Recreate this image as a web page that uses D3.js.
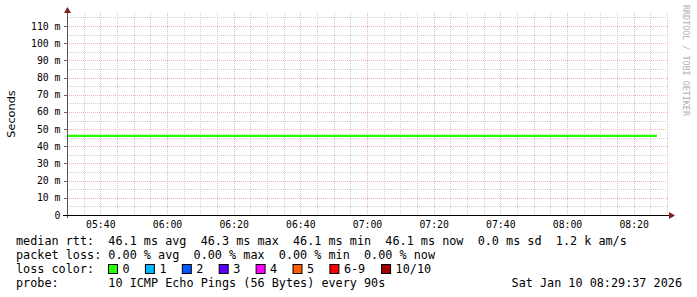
<!DOCTYPE html>
<html>
<head>
<meta charset="utf-8">
<script src="https://cdn.jsdelivr.net/npm/d3@7/dist/d3.min.js"></script>
<style>
  html, body { margin: 0; padding: 0; background: #fff; }
  svg { display: block; }
  text { white-space: pre; }
</style>
</head>
<body>
<div id="chart"></div>
<script>
// time window of the graph and the median rtt samples (seconds)
const timeStart = "05:30";
const timeEnd = "08:30";
const sampleTimes = ["05:30", "08:27"];
const medianRtt = [0.0461, 0.0461];
const lossOfSamples = [0, 0];

const yMajorTicks = [0, 0.01, 0.02, 0.03, 0.04, 0.05, 0.06, 0.07, 0.08, 0.09, 0.10, 0.11];
const yTickLabels = ["0", "10 m", "20 m", "30 m", "40 m", "50 m", "60 m", "70 m", "80 m", "90 m", "100 m", "110 m"];

const rttStats = ["46.1 ms avg", "46.3 ms max", "46.1 ms min", "46.1 ms now", "0.0 ms sd", "1.2 k am/s"];
const lossStats = ["0.00 % avg", "0.00 % max", "0.00 % min", "0.00 % now"];
const lossLabels = ["0", "1", "2", "3", "4", "5", "6-9", "10/10"];
const lossColors = ["#26ff00", "#00b8ff", "#0059ff", "#5e00ff", "#ff00ff", "#ff5e00", "#ff0000", "#a00000"];
const probeText = "10 ICMP Echo Pings (56 Bytes) every 90s";
const stamp = "Sat Jan 10 08:29:37 2026";

const W = 697, H = 297;
const plot = { left: 67, right: 667, top: 13, bottom: 215 };
const mono = "'DejaVu Sans Mono', monospace";
const legendFont = 11.8;

const day = t => new Date(`2026-01-10T${t}:00`);

const svg = d3.select("#chart").append("svg")
  .attr("width", W).attr("height", H);

svg.append("rect").attr("width", W).attr("height", H).attr("fill", "#fff");

const x = d3.scaleTime()
  .domain([day(timeStart), day(timeEnd)])
  .range([plot.left, plot.right]);

const y = d3.scaleLinear()
  .domain([0, 0.1176])
  .range([plot.bottom, plot.top]);

// minor grid
svg.append("g").selectAll("line")
  .data(x.ticks(d3.timeMinute.every(5)).filter(d => d.getMinutes() % 20 !== 0 && +d > +day(timeStart)))
  .join("line")
  .attr("x1", d => Math.round(x(d)) + 0.5).attr("x2", d => Math.round(x(d)) + 0.5)
  .attr("y1", plot.top).attr("y2", plot.bottom)
  .attr("stroke", "#cfcfcf").attr("stroke-dasharray", "1,1");

svg.append("g").selectAll("line")
  .data(d3.range(0.005, 0.12, 0.01))
  .join("line")
  .attr("x1", plot.left).attr("x2", plot.right + 2)
  .attr("y1", d => Math.round(y(d)) + 0.5).attr("y2", d => Math.round(y(d)) + 0.5)
  .attr("stroke", "#cfcfcf").attr("stroke-dasharray", "1,1");

// major grid
const majorX = x.ticks(d3.timeMinute.every(20));
svg.append("g").selectAll("line")
  .data(majorX)
  .join("line")
  .attr("x1", d => Math.round(x(d)) + 0.5).attr("x2", d => Math.round(x(d)) + 0.5)
  .attr("y1", plot.top).attr("y2", plot.bottom)
  .attr("stroke", "#f0b4b4").attr("stroke-dasharray", "1,1");

svg.append("g").selectAll("line")
  .data(yMajorTicks.slice(1))
  .join("line")
  .attr("x1", plot.left).attr("x2", plot.right + 2)
  .attr("y1", d => Math.round(y(d)) + 0.5).attr("y2", d => Math.round(y(d)) + 0.5)
  .attr("stroke", "#f0b4b4").attr("stroke-dasharray", "1,1");

// small tick marks left of the y axis
svg.append("g").selectAll("line")
  .data(yMajorTicks)
  .join("line")
  .attr("x1", plot.left - 3).attr("x2", plot.left)
  .attr("y1", d => Math.round(y(d)) + 0.5).attr("y2", d => Math.round(y(d)) + 0.5)
  .attr("stroke", "#666");

// median line
const series = sampleTimes.map((t, i) => ({ t: day(t), v: medianRtt[i], loss: lossOfSamples[i] }));
svg.append("path")
  .datum(series)
  .attr("fill", "none")
  .attr("stroke", lossColors[series[0].loss])
  .attr("stroke-width", 2.2)
  .attr("d", d3.line().x(d => x(d.t)).y(d => y(d.v)));

// axes
svg.append("line")
  .attr("x1", plot.left + 0.5).attr("x2", plot.left + 0.5)
  .attr("y1", plot.bottom + 3).attr("y2", plot.top - 1)
  .attr("stroke", "#555");
svg.append("line")
  .attr("x1", plot.left - 4).attr("x2", plot.right + 3)
  .attr("y1", plot.bottom + 0.5).attr("y2", plot.bottom + 0.5)
  .attr("stroke", "#000");
svg.append("path")
  .attr("d", `M${plot.left + 0.5},${plot.top - 6} L${plot.left - 3},${plot.top} L${plot.left + 4},${plot.top} Z`)
  .attr("fill", "#7f1f1f");
svg.append("path")
  .attr("d", `M${plot.right + 8},${plot.bottom + 0.5} L${plot.right + 2},${plot.bottom - 3} L${plot.right + 2},${plot.bottom + 4} Z`)
  .attr("fill", "#7f1f1f");

// tick labels
svg.append("g").selectAll("text")
  .data(yMajorTicks)
  .join("text")
  .attr("x", 60.5)
  .attr("y", d => y(d) + 3.5)
  .attr("text-anchor", "end")
  .attr("font-family", mono).attr("font-size", 9.8)
  .attr("fill", "#000")
  .text((d, i) => yTickLabels[i]);

svg.append("g").selectAll("text")
  .data(majorX)
  .join("text")
  .attr("x", d => x(d) + 0.5)
  .attr("y", 228)
  .attr("text-anchor", "middle")
  .attr("font-family", mono).attr("font-size", 9.8)
  .attr("fill", "#000")
  .text(d3.timeFormat("%H:%M"));

// axis title
svg.append("text")
  .attr("transform", "translate(15,114) rotate(-90)")
  .attr("text-anchor", "middle")
  .attr("font-family", "'DejaVu Sans', sans-serif").attr("font-size", 11.3)
  .attr("fill", "#000")
  .text("Seconds");

// watermark
svg.append("text")
  .attr("transform", "translate(683,5) rotate(90)")
  .attr("font-family", mono).attr("font-size", 8.4)
  .attr("fill", "#b0b0b0")
  .text("RRDTOOL / TOBI OETIKER");

// legend
const legendText = (tx, ty, s, anchor) => svg.append("text")
  .attr("x", tx).attr("y", ty)
  .attr("text-anchor", anchor || "start")
  .attr("font-family", mono).attr("font-size", legendFont)
  .attr("fill", "#000")
  .text(s);

legendText(16, 245, "median rtt:  " + rttStats.join("  "));
legendText(16, 259, "packet loss: " + lossStats.join("  "));

legendText(16, 273, "loss color:");
let cx = 108.5;
lossLabels.forEach((lab, i) => {
  svg.append("rect")
    .attr("x", cx).attr("y", 264.5).attr("width", 9).attr("height", 9)
    .attr("fill", lossColors[i]).attr("stroke", "#000");
  legendText(cx + 14, 273, lab);
  cx += 29.5 + lab.length * 7.4;
});

legendText(16, 287, "probe:       " + probeText);
legendText(682, 287, stamp, "end");
</script>
</body>
</html>
